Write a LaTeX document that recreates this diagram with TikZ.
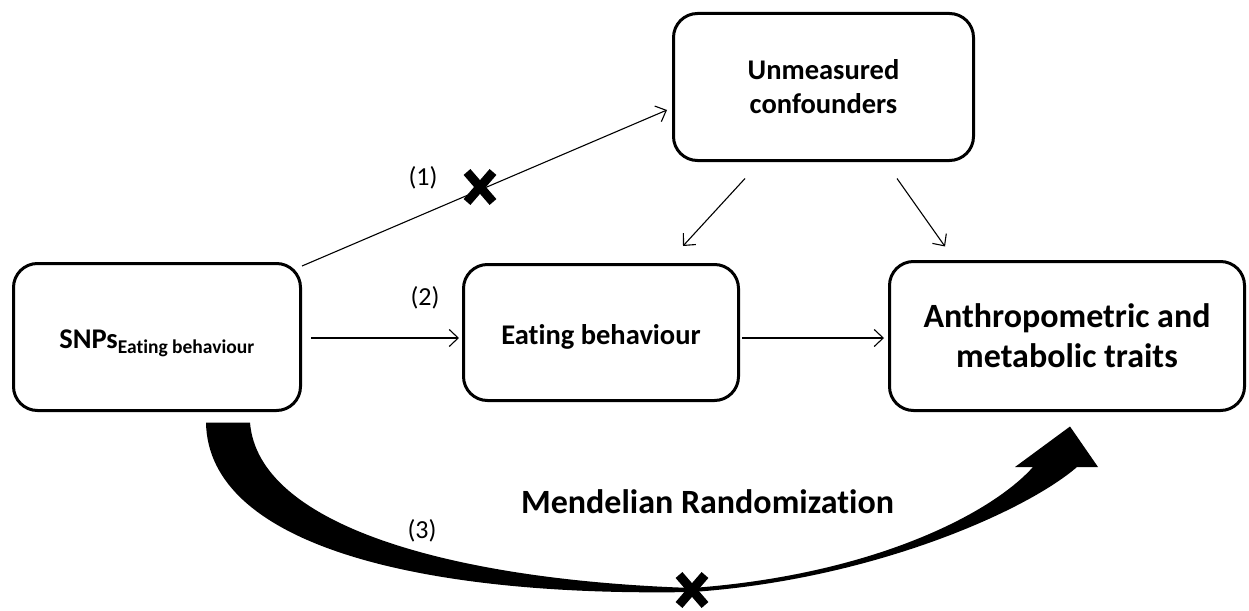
\documentclass[tikz,border=0pt]{standalone}
\usepackage{fontspec}
\setmainfont{Carlito}[Ligatures={TeX,NoCommon}]
\usetikzlibrary{arrows.meta,calc}
\begin{document}
\begin{tikzpicture}[x=1pt,y=-1pt,
  box/.style={draw, line width=3pt, rounded corners=24pt, align=center, inner sep=0pt},
  conn/.style={line width=1.1pt, -{Straight Barb[length=9pt,width=17pt,line width=1.1pt]}},
  lbl/.style={font=\fontsize{26}{30}\selectfont, inner sep=0pt},
  xmark/.pic={\draw[line width=9pt] (-13,-15)--(13,15) (-13,15)--(13,-15);}
]
\useasboundingbox (0,0) rectangle (1249,610);

% boxes
\node[box, minimum width=287pt, minimum height=147pt, text height=26pt, text depth=4pt,
      font=\fontsize{28.5}{32}\selectfont\bfseries] (snp) at (157,337)
  {SNPs\textsubscript{\fontsize{19.5}{22}\selectfont Eating behaviour}};
\node[box, minimum width=275pt, minimum height=136pt, text height=26.7pt, text depth=3.3pt,
      font=\fontsize{28.5}{32}\selectfont\bfseries] (eat) at (601,332.5)
  {Eating behaviour};
\node[box, minimum width=355pt, minimum height=149pt,
      font=\fontsize{34}{40}\selectfont\bfseries] (anth) at (1067,336)
  {Anthropometric and\\metabolic traits};
\node[box, minimum width=300pt, minimum height=147pt,
      font=\fontsize{28.5}{34}\selectfont\bfseries] (conf) at (823.5,87)
  {Unmeasured\\confounders};

% connectors
\draw[conn] ($(snp.north east)+(0,4)$) -- ($(conf.west)+(-5,23)$);
\draw[conn] ($(snp.east)+(9,1)$) -- ($(eat.west)+(-3,5.5)$);
\draw[conn] ($(eat.east)+(2,5.5)$) -- ($(anth.west)+(-4,2)$);
\draw[conn] ($(conf.south)+(-78.5,16.5)$) -- ($(eat.north)+(82,-17)$);
\draw[conn] ($(conf.south)+(73.5,16.5)$) -- ($(anth.north)+(-122,-13.5)$);

% labels
\node[lbl] (l1) at (423,178) {(1)};
\node[lbl] (l2) at (425,298) {(2)};
\node[lbl] (l3) at (422,531) {(3)};
\node[font=\fontsize{34}{40}\selectfont\bfseries, inner sep=0pt, anchor=base] (mr) at (707.5,513) {Mendelian Randomization};

% big curved arrow (Mendelian randomization)
\coordinate (mrA) at ($(snp.south)+(49,10.5)$);
\coordinate (mrB) at ($(snp.south)+(93,10.5)$);
\coordinate (mrTip) at ($(anth.south)+(3,14.5)$);
\fill (mrA) .. controls (208,545) and (420,597) .. (692,592)
      .. controls (870,580) and (1025,512) .. (1077,467)
      -- (1098,467) -- (mrTip) -- (1015,467) -- (1033,467)
      .. controls (990,515) and (870,575) .. (692,588)
      .. controls (450,580) and (258,525) .. (mrB) -- cycle;

% crosses
\pic at (480,187) {xmark};
\pic at (692,590) {xmark};
\end{tikzpicture}
\end{document}
